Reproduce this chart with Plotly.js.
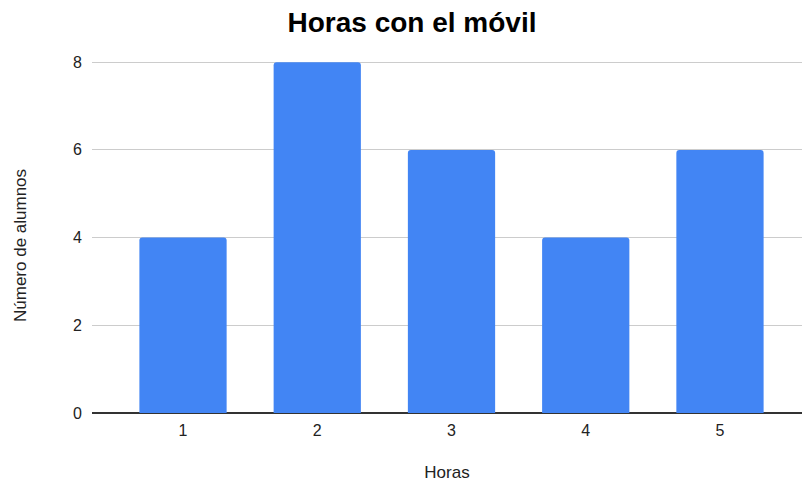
<!DOCTYPE html>
<html>
<head>
<meta charset="utf-8">
<script src="https://cdn.plot.ly/plotly-3.0.1.min.js"></script>
<style>
  html, body { margin: 0; padding: 0; background: #fff; }
  #chart { width: 802px; height: 482px; }
</style>
</head>
<body>
<div id="chart"></div>
<script>
// Horas diarias con el móvil y número de alumnos en cada caso
const horas = [1, 2, 3, 4, 5];
const horasLabels = ['1', '2', '3', '4', '5'];
const alumnos = [4, 8, 6, 4, 6];
const yTicks = [0, 2, 4, 6, 8];

const font = '"Liberation Sans", Arial, sans-serif';

const trace = {
  type: 'bar',
  x: horas,
  y: alumnos,
  width: 0.65,
  marker: { color: '#4285f4', cornerradius: 3, line: { width: 0 } },
  hoverinfo: 'x+y'
};

const layout = {
  width: 802,
  height: 482,
  margin: { l: 92, r: 0, t: 60, b: 69 },
  paper_bgcolor: '#ffffff',
  plot_bgcolor: '#ffffff',
  showlegend: false,
  font: { family: font, color: '#222222', size: 16 },
  title: {
    text: '<b>Horas con el móvil</b>',
    font: { family: font, size: 28, color: '#000000' },
    xref: 'container', x: 412 / 802, xanchor: 'center',
    yref: 'container', y: 1 - 22 / 482, yanchor: 'middle'
  },
  xaxis: {
    type: 'linear',
    range: [0.322, 5.611],
    tickvals: horas,
    ticktext: horasLabels,
    showgrid: false,
    zeroline: false,
    showline: false,
    ticks: '',
    ticklabelstandoff: 6,
    automargin: false,
    tickfont: { family: font, size: 16, color: '#222222' },
    title: { text: 'Horas', font: { family: font, size: 17, color: '#222222' }, standoff: 34 }
  },
  yaxis: {
    range: [0, 8.05],
    tickvals: yTicks,
    showgrid: true,
    gridcolor: '#cccccc',
    gridwidth: 1,
    zeroline: true,
    zerolinecolor: '#333333',
    zerolinewidth: 1.3,
    showline: false,
    ticks: '',
    ticklabelstandoff: 9,
    automargin: false,
    tickfont: { family: font, size: 16, color: '#222222' }
  },
  // y-axis title, set a little below the plot's vertical centre
  annotations: [{
    text: 'Número de alumnos',
    textangle: -90,
    xref: 'paper', yref: 'paper',
    x: (20 - 92) / 710, y: (413 - 246) / 353,
    xanchor: 'center', yanchor: 'middle',
    showarrow: false,
    font: { family: font, size: 17, color: '#222222' }
  }],
  bargap: 0.35
};

Plotly.newPlot('chart', [trace], layout, { displayModeBar: false, staticPlot: true });
</script>
</body>
</html>
